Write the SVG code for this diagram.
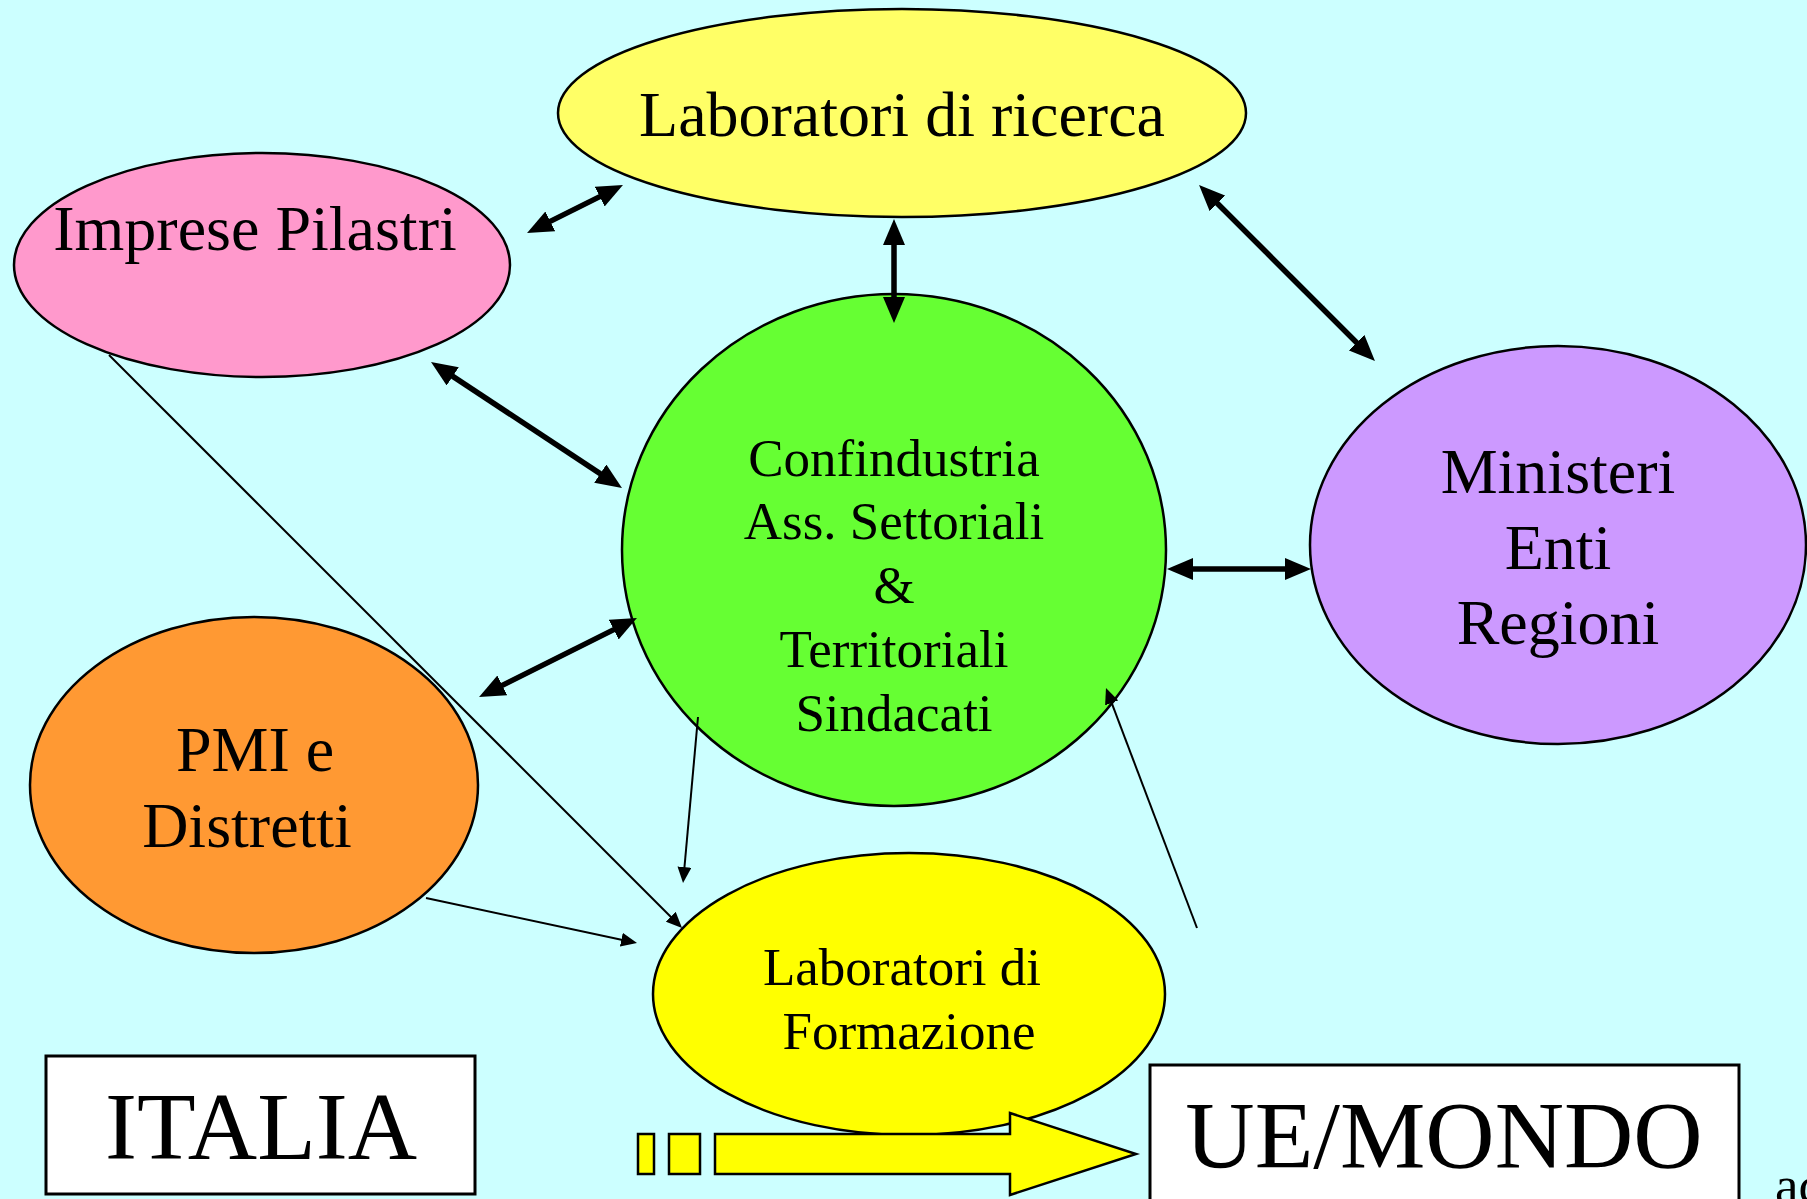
<svg xmlns="http://www.w3.org/2000/svg" width="1807" height="1199" viewBox="0 0 1807 1199">
<defs>
<style>
.n{stroke:#000;stroke-width:2.5}
.t{font-family:"Liberation Serif","Times New Roman",serif;fill:#000;text-anchor:middle}
.thick{stroke:#000;stroke-width:5.5;fill:none}
.thin{stroke:#000;stroke-width:2;fill:none}
.box{fill:#fff;stroke:#000;stroke-width:3}
.ya{fill:#ffff00;stroke:#000;stroke-width:2.5}
</style>
<marker id="big" markerUnits="userSpaceOnUse" markerWidth="26" markerHeight="22" viewBox="0 0 26 22" refX="18" refY="11" orient="auto-start-reverse">
<path d="M0,0 L26,11 L0,22 z" fill="#000"/>
</marker>
<marker id="small" markerUnits="userSpaceOnUse" markerWidth="16" markerHeight="14" viewBox="0 0 16 14" refX="12" refY="7" orient="auto">
<path d="M0,0 L16,7 L0,14 z" fill="#000"/>
</marker>
</defs>
<rect x="0" y="0" width="1807" height="1199" fill="#ccffff"/>

<g id="lab-ricerca">
<ellipse class="n" cx="902" cy="113" rx="344" ry="104" fill="#ffff66"/>
<text class="t" x="902" y="136" font-size="64">Laboratori di ricerca</text>
</g>
<g id="imprese">
<ellipse class="n" cx="262" cy="265" rx="248" ry="112" fill="#ff99cc"/>
<text class="t" x="255" y="250" font-size="64">Imprese Pilastri</text>
</g>
<g id="confindustria">
<ellipse class="n" cx="894" cy="550" rx="272" ry="256" fill="#66ff33"/>
<text class="t" font-size="53"><tspan x="894" y="476">Confindustria</tspan><tspan x="894" y="539">Ass. Settoriali</tspan><tspan x="894" y="603">&amp;</tspan><tspan x="894" y="667">Territoriali</tspan><tspan x="894" y="731">Sindacati</tspan></text>
</g>
<g id="ministeri">
<ellipse class="n" cx="1558" cy="545" rx="248" ry="199" fill="#cc99ff"/>
<text class="t" font-size="64"><tspan x="1558" y="493">Ministeri</tspan><tspan x="1558" y="569">Enti</tspan><tspan x="1558" y="644">Regioni</tspan></text>
</g>
<g id="pmi">
<ellipse class="n" cx="254" cy="785" rx="224" ry="168" fill="#ff9933"/>
<text class="t" font-size="64"><tspan x="255" y="771">PMI e</tspan><tspan x="247" y="847">Distretti</tspan></text>
</g>
<g id="lab-formazione">
<ellipse class="n" cx="909" cy="994" rx="256" ry="141" fill="#ffff00"/>
<text class="t" font-size="53"><tspan x="902" y="985">Laboratori di</tspan><tspan x="909" y="1049">Formazione</tspan></text>
</g>

<g id="connectors">
<line class="thick" x1="534.2" y1="229.4" x2="615.8" y2="188.6" marker-start="url(#big)" marker-end="url(#big)"/>
<line class="thick" x1="894" y1="227" x2="894" y2="315" marker-start="url(#big)" marker-end="url(#big)"/>
<line class="thick" x1="1204.7" y1="190.7" x2="1369.3" y2="355.3" marker-start="url(#big)" marker-end="url(#big)"/>
<line class="thick" x1="437.7" y1="366.4" x2="615.3" y2="483.6" marker-start="url(#big)" marker-end="url(#big)"/>
<line class="thick" x1="1175" y1="569" x2="1303" y2="569" marker-start="url(#big)" marker-end="url(#big)"/>
<line class="thick" x1="629.8" y1="621.6" x2="486.2" y2="693.4" marker-start="url(#big)" marker-end="url(#big)"/>
<line class="thin" x1="698" y1="717" x2="683.4" y2="879" marker-end="url(#small)"/>
<line class="thin" x1="109" y1="355" x2="679.2" y2="925.2" marker-end="url(#small)"/>
<line class="thin" x1="426" y1="898" x2="633.1" y2="942.2" marker-end="url(#small)"/>
<line class="thin" x1="1197" y1="928" x2="1107.4" y2="691.7" marker-end="url(#small)"/>
</g>

<g id="italia">
<rect class="box" x="46" y="1056" width="429" height="138"/>
<text class="t" x="261" y="1159" font-size="96">ITALIA</text>
</g>
<g id="ue-mondo">
<rect class="box" x="1150" y="1065" width="589" height="150"/>
<text class="t" x="1444" y="1168" font-size="96">UE/MONDO</text>
</g>

<g id="big-arrow">
<rect class="ya" x="638" y="1134" width="16" height="40"/>
<rect class="ya" x="669" y="1134" width="31" height="40"/>
<polygon class="ya" points="715,1134 1010,1134 1010,1113 1136,1154 1010,1195 1010,1174 715,1174"/>
</g>

<text class="t" x="1775" y="1203" font-size="53" style="text-anchor:start">ac</text>
</svg>
